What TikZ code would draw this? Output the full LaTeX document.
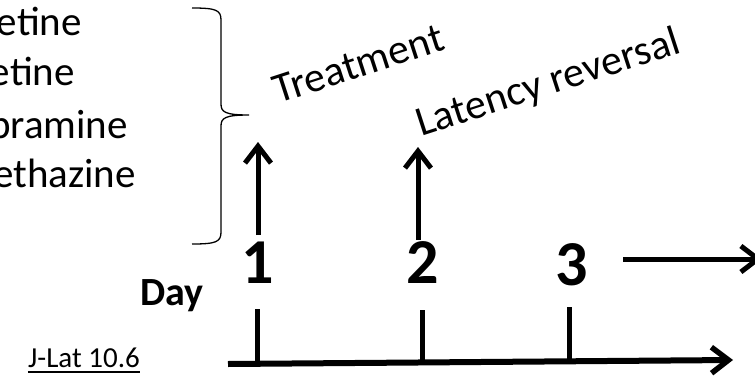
\documentclass[tikz,border=0pt]{standalone}
\usepackage{fontspec}
\setmainfont{Carlito}
\usetikzlibrary{arrows.meta}
\begin{document}
\begin{tikzpicture}[x=1pt,y=-1pt,
  listtxt/.style={anchor=base east, inner sep=0pt, font=\fontsize{41}{41}\selectfont},
  slanttxt/.style={anchor=base west, inner sep=0pt, rotate=18, font=\fontsize{42}{42}\selectfont},
  daynum/.style={anchor=base, inner sep=0pt, font=\fontsize{64}{64}\selectfont\bfseries},
  bigarrow/.style={line width=5pt, -{Straight Barb[length=17pt,width=26pt,line width=5pt]}},
  tickline/.style={line width=5pt},
  bracepath/.style={line width=1.3pt},
]
\useasboundingbox (0,0) rectangle (755,375);

% drug list
\node[listtxt] (l1) at (82,35) {etine};
\node[listtxt] (l2) at (75,85) {etine};
\node[listtxt] (l3) at (128,138) {pramine};
\node[listtxt] (l4) at (136,187) {ethazine};

% brace
\coordinate (btop) at (192,8);
\coordinate (btip) at (249,115);
\coordinate (bbot) at (192,244);
\draw[bracepath] (btop) .. controls (216,8) and (221,10) .. (221,20) -- (221,104)
  .. controls (221,112) and (225,115) .. (btip)
  .. controls (225,115) and (221,118) .. (221,126) -- (221,232)
  .. controls (221,242) and (216,244) .. (bbot);

% rotated labels
\node[slanttxt] (treat) at (278,104) {Treatment};
\node[slanttxt] (lat) at (421,137) {Latency reversal};

% up arrows
\coordinate (a1b) at (258,235);
\coordinate (a1t) at (258,142);
\draw[bigarrow] (a1b) -- (a1t);
\coordinate (a2b) at (418,240);
\coordinate (a2t) at (418,147);
\draw[bigarrow] (a2b) -- (a2t);

% day numbers
\node[daynum] (d1) at (258,283) {1};
\node[daynum] (d2) at (423,283) {2};
\node[daynum] (d3) at (572,285) {3};

% right arrow after 3
\coordinate (r0) at (623,259);
\coordinate (r1) at (762,259);
\draw[bigarrow] (r0) -- (r1);

% Day label
\node[anchor=base west, inner sep=0pt, font=\fontsize{40}{40}\selectfont\bfseries] (day) at (140,305) {Day};

% ticks
\coordinate (t1a) at (257,309); \coordinate (t1b) at (257,364);
\coordinate (t2a) at (422,310); \coordinate (t2b) at (422,362);
\coordinate (t3a) at (569,307); \coordinate (t3b) at (569,360);
\draw[tickline] (t1a) -- (t1b);
\draw[tickline] (t2a) -- (t2b);
\draw[tickline] (t3a) -- (t3b);

% axis
\coordinate (ax0) at (228,364);
\coordinate (ax1) at (733,360);
\draw[line width=6pt, -{Straight Barb[length=17pt,width=26pt,line width=5.5pt]}] (ax0) -- (ax1);

% J-Lat label
\node[anchor=base east, inner sep=0pt, font=\fontsize{29}{29}\selectfont] (jl) at (140,367) {J-Lat 10.6};
\draw[line width=1.8pt] ([yshift=-5pt]jl.base west) -- ([yshift=-5pt]jl.base east);
\end{tikzpicture}
\end{document}
